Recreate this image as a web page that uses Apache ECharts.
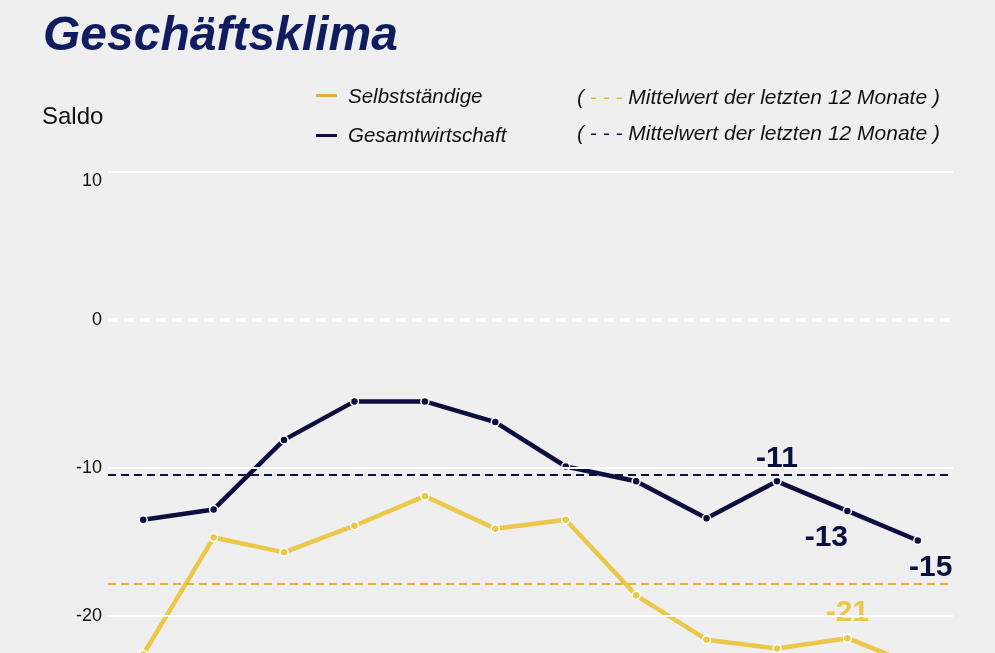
<!DOCTYPE html>
<html>
<head>
<meta charset="utf-8">
<script src="https://cdn.jsdelivr.net/npm/echarts@6/dist/echarts.min.js"></script>
<style>
  html, body { margin: 0; padding: 0; background: #efefef; }
  #main { width: 995px; height: 653px; }
</style>
</head>
<body>
<div id="main"></div>
<script>
// Daten (Saldo)
var months = ["1", "2", "3", "4", "5", "6", "7", "8", "9", "10", "11", "12"];
var selbststaendige = [-22.6, -14.7, -15.7, -13.9, -11.9, -14.1, -13.5, -18.6, -21.6, -22.2, -21.5, -23.4];
var gesamtwirtschaft = [-13.5, -12.8, -8.1, -5.5, -5.5, -6.9, -9.9, -10.9, -13.4, -10.9, -12.9, -14.9];
var yTicks = [10, 0, -10, -20, -30];

var navy = "#0c0e3e";
var yellow = "#ebc84a";
var yellowDash = "#e2b23c";
var font = "Liberation Sans, Arial, sans-serif";

var chart = echarts.init(document.getElementById("main"));

// Beschriftete Punkte am Ende
function withLabels(values, color, labelCfg) {
  return values.map(function (v, i) {
    var item = { value: v };
    if (labelCfg[i]) {
      item.label = Object.assign({
        show: true,
        color: color,
        fontSize: 30,
        fontWeight: "bold",
        fontFamily: font,
        formatter: function (p) { return Math.round(p.value); }
      }, labelCfg[i]);
    }
    return item;
  });
}

var gridLines = yTicks.map(function (t) {
  return {
    yAxis: t,
    lineStyle: t === 0
      ? { color: "#ffffff", width: 4, type: [10, 6] }
      : { color: "#ffffff", width: 2, type: "solid" }
  };
});

var option = {
  backgroundColor: "#efefef",
  animation: false,
  graphic: [
    {
      type: "text", left: 43, top: 13,
      style: { text: "Geschäftsklima", fill: "#0f1d5e", font: "italic bold 48px " + font }
    },
    {
      type: "text", left: 42, top: 105,
      style: { text: "Saldo", fill: "#111", font: "24px " + font }
    },
    { type: "rect", left: 316, top: 94, shape: { width: 21, height: 3 }, style: { fill: yellowDash } },
    { type: "rect", left: 316, top: 134, shape: { width: 21, height: 3 }, style: { fill: navy } },
    {
      type: "text", left: 348, top: 87,
      style: { text: "Selbstständige", fill: "#111", font: "italic 20.5px " + font }
    },
    {
      type: "text", left: 348, top: 126,
      style: { text: "Gesamtwirtschaft", fill: "#111", font: "italic 20.5px " + font }
    },
    {
      type: "text", left: 577, top: 88,
      style: {
        text: "( {y|- - -} Mittelwert der letzten 12 Monate )",
        fill: "#111", font: "italic 21px " + font,
        rich: { y: { fill: yellowDash, font: "italic 21px " + font } }
      }
    },
    {
      type: "text", left: 577, top: 124,
      style: {
        text: "( {n|- - -} Mittelwert der letzten 12 Monate )",
        fill: "#111", font: "italic 21px " + font,
        rich: { n: { fill: navy, font: "italic 21px " + font } }
      }
    }
  ],
  grid: { left: 108, top: 172, width: 845, height: 592, outerBoundsMode: "none", containLabel: false },
  xAxis: {
    type: "category",
    data: months,
    boundaryGap: true,
    axisLine: { show: false },
    axisTick: { show: false },
    axisLabel: { show: false }
  },
  yAxis: {
    type: "value",
    min: -30,
    max: 10,
    interval: 10,
    axisLine: { show: false },
    axisTick: { show: false },
    splitLine: { show: false },
    axisLabel: {
      color: "#111", fontSize: 18, fontFamily: font, margin: 6,
      formatter: function (v) { return v === 10 ? "{top|" + v + "}" : v; },
      rich: { top: { fontSize: 18, fontFamily: font, color: "#111", padding: [18, 0, 0, 0] } }
    }
  },
  series: [
    {
      name: "Gitter",
      type: "line",
      data: [],
      markLine: { silent: true, symbol: "none", label: { show: false }, data: gridLines }
    },
    {
      name: "Selbstständige",
      type: "line",
      z: 3,
      data: withLabels(selbststaendige, yellow, {
        10: { position: "top", distance: 6 },
        11: { position: "bottom", distance: 8 }
      }),
      lineStyle: { width: 4.5, color: yellow },
      symbol: "circle",
      symbolSize: 8,
      itemStyle: { color: yellow, borderColor: "#ffffff", borderWidth: 1.5 },
      markLine: {
        silent: true, symbol: "none", label: { show: false },
        lineStyle: { color: yellowDash, width: 2, type: [8, 5] },
        data: [{ type: "average" }]
      }
    },
    {
      name: "Gesamtwirtschaft",
      type: "line",
      z: 4,
      data: withLabels(gesamtwirtschaft, navy, {
        9: { position: "top", distance: 3 },
        10: { position: "bottom", distance: 7, offset: [-21, 0] },
        11: { position: "bottom", distance: 7, offset: [13, 0] }
      }),
      lineStyle: { width: 4.5, color: navy },
      symbol: "circle",
      symbolSize: 8,
      itemStyle: { color: navy, borderColor: "#ffffff", borderWidth: 1.5 },
      markLine: {
        silent: true, symbol: "none", label: { show: false },
        lineStyle: { color: navy, width: 2, type: [8, 5] },
        data: [{ type: "average" }]
      }
    }
  ]
};

chart.setOption(option);
</script>
</body>
</html>
